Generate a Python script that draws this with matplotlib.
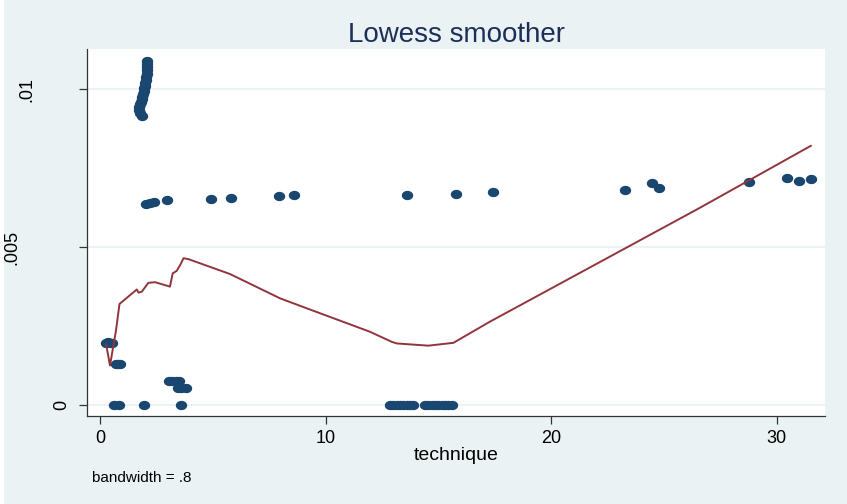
import numpy as np
import matplotlib
matplotlib.use("Agg")
import matplotlib.pyplot as plt
from matplotlib.path import Path
from matplotlib.patches import Rectangle
import matplotlib.transforms as mtransforms

plt.rcParams["font.family"] = ["Liberation Sans", "DejaVu Sans"]

# scatter points: technique vs outcome
tech_x = [
    # the near-vertical streak around x=2
    1.86, 1.75, 1.71, 1.73, 1.78, 1.82, 1.85, 1.88, 1.91, 1.93,
    1.95, 1.98, 2.00, 2.02, 2.04, 2.06, 2.07, 2.08, 2.09, 2.10,
    # the row around .0065
    2.03, 2.20, 2.37, 2.96, 4.91, 5.80, 7.94, 8.62, 13.61, 15.79,
    17.41, 23.28, 24.48, 24.79, 28.78, 30.48, 30.98, 31.53,
    # low values near the origin
    0.25, 0.35, 0.45, 0.55, 0.70, 0.80, 0.88,
    3.05, 3.20, 3.35, 3.50, 3.45, 3.60, 3.80,
    # zeros
    0.62, 0.86, 1.95, 3.58,
    12.85, 13.00, 13.15, 13.30, 13.45, 13.60, 13.75, 13.88,
    14.40, 14.55, 14.70, 14.85, 15.00, 15.15, 15.30, 15.45, 15.60,
]
tech_y = [
    .00917, .00925, .00935, .00945, .00952, .00960, .00968, .00976, .00985, .00994,
    .01003, .01012, .01021, .01030, .01040, .01050, .01060, .01070, .01080, .01089,
    .00636, .00641, .00644, .00649, .00652, .00657, .00662, .00666, .00665, .00669,
    .00674, .00681, .00703, .00687, .00705, .00720, .00710, .00715,
    .00198, .00199, .00196, .00196, .00131, .00130, .00130,
    .00077, .00077, .00076, .00076, .00055, .00055, .00055,
    0, 0, 0, 0,
    0, 0, 0, 0, 0, 0, 0, 0,
    0, 0, 0, 0, 0, 0, 0, 0, 0,
]

# lowess curve vertices (bandwidth .8)
smooth_x = [0.27, 0.44, 0.71, 0.86, 1.63, 1.70, 1.85, 2.14, 2.44, 3.10, 3.22,
            3.40, 3.58, 3.70, 3.92, 5.76, 7.98, 8.65, 11.97, 12.94, 13.16,
            14.56, 15.67, 17.29, 26.61, 31.52]
smooth_y = [.00192, .00125, .00238, .00320, .00366, .00356, .00359, .00387,
            .00389, .00375, .00417, .00425, .00447, .00465, .00462, .00415,
            .00338, .00320, .00232, .00200, .00195, .00188, .00197, .00264,
            .00625, .00821]

x_ticks = [0, 10, 20, 30]
y_ticks = [0, .005, .01]
y_tick_labels = ["0", ".005", ".01"]
# horizontal placement of the rotated y labels, in axes fraction
y_label_offsets = [-0.034, -0.102, -0.081]

bg = "#eaf2f3"
navy = "#1a476f"
maroon = "#90353b"

fig = plt.figure(figsize=(8.47, 5.04), dpi=100, facecolor=bg)
fig.patches.append(Rectangle((0, 0), 4 / 847, 1, transform=fig.transFigure,
                             facecolor="white", edgecolor="none", zorder=0))
ax = fig.add_axes([87 / 847, 88 / 504, 738 / 847, 367 / 504])
ax.set_facecolor("white")

# slightly wide ellipse marker, like the stretched original
t = np.linspace(0, 2 * np.pi, 40)
ellipse = Path(np.column_stack([1.22 * np.cos(t), np.sin(t)]), closed=True)

ax.plot(tech_x, tech_y, linestyle="none", marker=ellipse, markersize=8.2,
        color=navy, markeredgewidth=0, zorder=3)
ax.plot(smooth_x, smooth_y, color=maroon, linewidth=1.4, zorder=4)

ax.set_xlim(-0.58, 32.15)
ax.set_ylim(-0.000348, 0.011277)

ax.set_xticks(x_ticks)
ax.set_yticks(y_ticks)
ax.set_yticklabels([])
ax.yaxis.grid(True, color=bg, linewidth=1.3)
ax.set_axisbelow(True)

for side in ["top", "right"]:
    ax.spines[side].set_visible(False)
for side in ["left", "bottom"]:
    ax.spines[side].set_color("#333333")
    ax.spines[side].set_linewidth(0.9)

ax.tick_params(direction="out", length=5.8, width=0.9, color="#333333",
               labelsize=13, pad=4.3)

trans = mtransforms.blended_transform_factory(ax.transAxes, ax.transData)
for val, lab, off in zip(y_ticks, y_tick_labels, y_label_offsets):
    ax.text(off, val, lab, transform=trans, rotation=90, ha="center",
            va="center", fontsize=13)

fig.text(456 / 847, 1 - 42 / 504, "Lowess smoother", ha="center",
         va="baseline", fontsize=20, color="#1c2e5a")
fig.text(456 / 847, 1 - 460 / 504, "technique", ha="center", va="baseline",
         fontsize=14)
fig.text(92 / 847, 1 - 482 / 504, "bandwidth = .8", ha="left", va="baseline",
         fontsize=11)

fig.savefig("out.png", dpi=100, facecolor=bg)
